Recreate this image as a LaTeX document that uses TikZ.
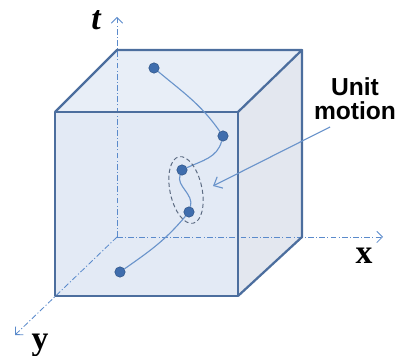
\documentclass[tikz,border=0pt]{standalone}
\usepackage{fontspec}
\setmainfont{Liberation Serif}
\setsansfont{Liberation Sans}
\usetikzlibrary{arrows.meta,shapes.geometric}
\definecolor{edgeblue}{HTML}{4C6E9E}
\definecolor{frontface}{HTML}{E3EAF5}
\definecolor{topface}{HTML}{E8EEF7}
\definecolor{sideface}{HTML}{E3E7EF}
\definecolor{axisblue}{HTML}{5A8ACB}
\definecolor{dotblue}{HTML}{3F6DAD}
\definecolor{trackblue}{HTML}{6A94CB}
\definecolor{ringgrey}{HTML}{5C6B82}
\tikzset{
    edge/.style={draw=edgeblue, line width=1.6pt, line join=round},
    axis/.style={draw=axisblue, line width=0.6pt,
                 dash pattern=on 4pt off 1.6pt on 0.8pt off 1.6pt,
                 -{Straight Barb[length=4pt, width=8pt, line width=0.6pt]}},
    axis label/.style={font=\fontsize{24}{24}\selectfont\bfseries, inner sep=0pt},
    dot/.style={circle, fill=dotblue, draw=dotblue!80!black, line width=0.4pt,
                minimum size=2.6mm, inner sep=0pt},
    track/.style={draw=trackblue, line width=0.8pt},
    motion ring/.style={ellipse, draw=ringgrey, densely dashed, line width=0.7pt,
                        minimum width=8mm, minimum height=17mm, rotate=12},
    note/.style={font=\sffamily\bfseries\fontsize{17.5}{17}\selectfont,
                 align=center, inner sep=0pt},
    pointer/.style={draw=trackblue, line width=0.8pt,
                    -{Straight Barb[length=5pt, width=9pt, line width=0.8pt]}},
}

\begin{document}
\begin{tikzpicture}[x=0.25mm, y=0.25mm]
    \path[use as bounding box] (0,0) rectangle (401,356);

    % faces of the box
    \fill[topface] (55,244) -- (117,306) -- (302,306) -- (238,244) -- cycle;
    \fill[sideface] (238,244) -- (302,306) -- (302,119) -- (238,60) -- cycle;
    \fill[frontface] (55,60) rectangle (238,244);

    % axes
    \coordinate (origin) at (117,119);
    \coordinate (tend) at (117,339);
    \coordinate (xend) at (383,119);
    \coordinate (yend) at (15,21);
    \draw[axis] (origin) -- (tend);
    \draw[axis] (origin) -- (xend);
    \draw[axis] (origin) -- (yend);
    \node[axis label] (tlabel) at (96,336) {\itshape t};
    \node[axis label] (xlabel) at (364,100) {x};
    \node[axis label] (ylabel) at (40,11) {y};

    % edges
    \draw[edge] (55,60) rectangle (238,244);
    \draw[edge] (55,244) -- (117,306) -- (302,306) -- (238,244);
    \draw[edge] (302,306) -- (302,119) -- (238,60);

    % trajectory
    \foreach \n/\x/\y in {1/154/288, 2/223/220, 3/182/186, 4/189/144, 5/120/84} {
        \node[dot] (p\n) at (\x,\y) {};
    }
    \draw[track] (p1) to[out=-40, in=125] (p2);
    \draw[track] (p2) to[out=-105, in=25] (p3);
    \draw[track] (p3) .. controls (176,170) and (194,162) .. (p4);
    \draw[track] (p4) to[out=-130, in=35] (p5);

    % unit motion
    \node[motion ring] (ring) at (186,166) {};
    \node[note] (unit) at (355,257) {Unit\\motion};
    \coordinate (tail) at (330,229);
    \coordinate (tip) at (213,170);
    \draw[pointer] (tail) -- (tip);
\end{tikzpicture}
\end{document}
